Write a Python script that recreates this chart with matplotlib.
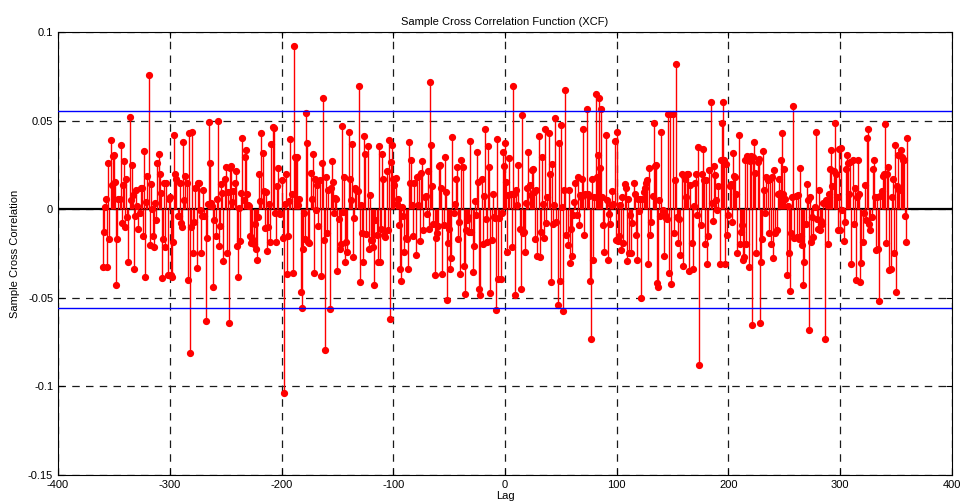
import matplotlib
matplotlib.use("Agg")
import matplotlib.pyplot as plt
import numpy as np

plt.rcParams["font.family"] = ["Liberation Sans", "DejaVu Sans"]
plt.rcParams["axes.unicode_minus"] = False

# sample cross correlation, lags -360 .. 360, split in blocks of lags
xcf_a = [  # -360 .. -303
    -0.0325, -0.013, 0.001, 0.0056, -0.0325, 0.026, -0.017, 0.039, 0.0135, 0.030,
    0.0305, 0.0154, -0.043, -0.017, 0.006, 0.006, 0.036, -0.008, 0.0135, 0.027,
    -0.010, 0.017, -0.0045, -0.030, 0.052, 0.005, 0.025, 0.008, -0.034, -0.004,
    0.011, 0.002, -0.011, -0.002, 0.012, 0.012, -0.015, 0.033, -0.038, 0.004,
    0.019, 0.076, -0.020, 0.014, 0.0, -0.015, -0.0215, 0.0034, -0.006, 0.026,
    0.031, 0.020, 0.009, -0.039, -0.017, 0.015, -0.0215, 0.015,
]
xcf_b = [  # -302 .. -242
    -0.037, 0.006, 0.0068, -0.037, -0.038, -0.0185, 0.042, 0.020, 0.017, -0.004,
    -0.004, 0.015, -0.008, -0.010, 0.038, 0.005, 0.0186, 0.015, -0.040, 0.043,
    -0.081, -0.010, 0.0436, -0.025, -0.007, 0.012, -0.033, 0.015, 0.015, -0.0006,
    -0.025, -0.004, 0.011, -0.004, -0.063, -0.016, 0.003, 0.049, 0.026, 0.0036,
    0.002, -0.044, -0.006, -0.015, 0.006, 0.050, -0.021, -0.0096, 0.014, 0.0092,
    -0.029, 0.017, 0.024, -0.025, 0.0098, -0.064, 0.023, 0.0245, 0.004, 0.010,
    0.0147,
]
xcf_c = [  # -241 .. -181
    0.0213, -0.0209, -0.0382, 0.0007, -0.0179, 0.0092, 0.0404, 0.0051, 0.0292, 0.0333,
    0.0083, 0.0021, 0.0017, -0.0149, -0.019, -0.0171, -0.0194, -0.0081, -0.0224, -0.0288,
    -0.0043, 0.0201, 0.0047, 0.0431, 0.0318, 0.0100, -0.0107, 0.0096, -0.0235, -0.0100,
    0.0032, -0.0186, 0.0367, 0.0461, 0.0457, -0.0021, -0.0186, 0.013, 0.0235, -0.0021,
    -0.0028, 0.0164, -0.0164, -0.104, 0.0032, 0.0201, -0.0363, -0.0149, 0.0047, 0.0397,
    0.0085, -0.036, 0.092, 0.0292, 0.0288, 0.0295, 0.0021, 0.006, -0.0465, -0.0559,
    -0.0224,
]
xcf_d = [  # -180 .. -120
    -0.0021, -0.0171, 0.0543, 0.0371, -0.0186, -0.019, 0.0205, 0.006, 0.0314, -0.036,
    0.0171, -0.0002, 0.0134, -0.0096, 0.0164, -0.0378, 0.0258, 0.0625, -0.0175, -0.0792,
    0.0182, -0.0137, 0.0111, -0.0566, 0.012, 0.0273, 0.0156, -0.0021, 0.0062, 0.0056,
    -0.0348, -0.0058, -0.0224, -0.0198, 0.0468, -0.0017, 0.0179, -0.0299, -0.0186, -0.0243,
    0.0438, 0.0173, 0.0051, 0.0367, -0.0269, -0.0051, 0.012, 0.0107, 0.0105, 0.0694,
    -0.0412, 0.0024, -0.0132, -0.0299, 0.0412, 0.0314, -0.0141, 0.0358, -0.0224, 0.0081,
    -0.0175,
]
xcf_e = [  # -119 .. -59
    -0.0175, -0.0213, -0.0429, -0.0062, -0.0145, -0.0299, 0.0359, -0.0299, -0.0109, 0.031,
    0.0168, -0.0147, -0.0156, 0.0213, -0.0119, 0.0389, -0.0622, 0.0265, 0.0361, 0.0171,
    0.0134, 0.0175, 0.0028, 0.006, -0.009, -0.034, -0.0408, 0.0013, -0.004, -0.0239,
    -0.016, -0.0167, -0.034, 0.038, 0.0148, 0.0276, 0.0024, -0.0149, 0.0148, -0.0261,
    0.0179, 0.0024, 0.019, -0.0182, 0.0205, 0.0273, -0.0119, 0.0069, 0.0073, -0.0028,
    0.0213, -0.0109, 0.0717, 0.0363, 0.013, -0.0081, -0.0372, -0.0165, -0.0137, -0.0096,
    0.0246,
]
xcf_f = [  # -58 .. 1
    0.0248, 0.0117, -0.0363, -0.009, 0.0295, 0.0098, -0.051, -0.019, -0.0109, -0.0335,
    -0.0275, 0.0408, -0.0021, 0.0028, 0.0168, 0.0239, -0.0171, -0.0071, -0.0363, 0.028,
    0.0239, -0.0318, -0.048, -0.0119, -0.0062, -0.0043, -0.0128, 0.0384, -0.0128, -0.0357,
    -0.0209, 0.0047, -0.0034, 0.0323, 0.0154, -0.0448, -0.0485, 0.0171, -0.0194, 0.0077,
    0.0453, -0.0053, -0.0184, 0.0356, 0.0239, -0.0472, -0.0175, 0.0088, -0.0043, -0.0047,
    -0.057, 0.0397, -0.0393, -0.0049, -0.0393, -0.0021, 0.0323, 0.0246, 0.0374, 0.0154,
]
xcf_g = [  # 2 .. 62
    -0.0239, 0.0079, 0.0288, 0.0088, -0.0213, 0.0694, 0.0088, -0.0485, 0.0107, 0.0023,
    0.0248, -0.0111, -0.0453, 0.0529, -0.0134, -0.0128, -0.0241, 0.0036, 0.0117, 0.0323,
    0.0135, 0.0079, 0.022, 0.0224, 0.0098, -0.0167, 0.0107, -0.0265, 0.0412, -0.0269,
    -0.013, 0.0292, 0.0032, -0.016, 0.0455, -0.0077, 0.0069, 0.0431, 0.0198, -0.041,
    0.0254, -0.0081, 0.0021, 0.0514, -0.0071, -0.054, 0.0374, -0.0405, 0.0476, 0.0013,
    -0.0574, 0.0111, 0.0672, -0.0147, -0.0203, 0.0107, -0.0303, -0.0109, -0.0265, -0.0034,
    0.0041,
]
xcf_h = [  # 63 .. 123
    0.0148, -0.0034, 0.0179, -0.009, 0.0079, 0.0069, 0.0173, 0.045, -0.0143, 0.0085,
    0.0563, 0.0088, 0.0073, -0.0405, -0.073, 0.0173, -0.0284, 0.0069, 0.0649, 0.0179,
    0.0305, 0.063, 0.0235, 0.0563, 0.0069, -0.009, -0.0241, 0.0418, 0.0051, -0.0288,
    -0.0028, -0.0085, 0.0026, 0.0103, 0.0032, 0.0386, -0.0175, 0.0436, -0.0179, -0.0151,
    0.0023, -0.0228, 0.0066, -0.019, 0.0141, 0.0117, -0.0292, 0.006, -0.025, -0.0034,
    -0.0247, -0.0077, 0.0145, 0.0088, -0.0147, -0.0288, 0.0055, -0.0013, 0.0055, -0.0504,
    0.0055,
]
xcf_i = [  # 124 .. 184
    0.0098, 0.0122, 0.0145, 0.0167, -0.0307, 0.0235, -0.0145, -0.0071, 0.0073, 0.0487,
    0.0243, 0.0248, -0.0416, -0.0438, 0.0051, -0.004, 0.0436, -0.0002, -0.0265, -0.0034,
    -0.0047, -0.0058, 0.0536, -0.0359, 0.054, -0.0423, 0.054, -0.0134, 0.0164, 0.0822,
    -0.0043, -0.019, -0.0053, -0.0258, 0.0198, -0.0322, 0.0186, 0.0173, 0.0069, 0.0198,
    0.0201, -0.0348, 0.0135, -0.019, -0.0335, 0.0017, 0.0145, 0.0198, -0.0034, 0.0352,
    -0.0879, -0.009, 0.0198, 0.0337, 0.0167, -0.0194, 0.0164, -0.0307, -0.0152, 0.022,
    0.0606,
]
xcf_j = [  # 185 .. 245
    0.0035, -0.0066, 0.0243, 0.0192, 0.0051, -0.0006, 0.013, -0.031, 0.0276, 0.0487,
    0.0606, 0.0276, -0.031, 0.0254, -0.0147, -0.0034, 0.013, 0.0141, -0.0071, 0.0318,
    0.0186, 0.0182, 0.0085, -0.025, 0.0416, -0.0198, -0.0128, -0.009, -0.0284, -0.0269,
    0.028, -0.0194, 0.0299, -0.0326, 0.0273, 0.0299, -0.0655, 0.0295, 0.038, 0.0205,
    -0.025, 0.0267, 0.0286, -0.0645, -0.0297, -0.0171, 0.0329, 0.0111, -0.0021, 0.0179,
    0.0164, -0.0137, 0.0173, -0.0194, 0.0179, -0.0273, 0.022, -0.0137, -0.0119, 0.0088,
    0.0168,
]
xcf_k = [  # 246 .. 305
    0.0092, 0.0276, 0.0431, 0.0088, 0.0224, 0.0055, -0.0372, 0.0017, -0.0247, -0.0461,
    -0.0134, 0.0069, 0.058, -0.016, 0.0073, -0.0156, 0.0079, -0.0171, 0.0235, -0.0152,
    -0.0203, -0.0427, -0.0299, -0.0081, 0.0141, 0.0051, -0.0679, 0.0066, -0.0184, -0.0043,
    -0.0156, 0.0013, 0.0436, -0.0058, -0.0109, 0.0107, -0.0119, -0.0066, -0.0081, 0.0036,
    -0.073, 0.0051, 0.0023, -0.0199, 0.0088, 0.0227, 0.0333, 0.013, 0.0216, 0.0487,
    0.0201, 0.0069, -0.0115, 0.0342, -0.0119, 0.0344, -0.0006, -0.0182, -0.0071, 0.0227,
]
xcf_l = [  # 306 .. 360
    0.0305, 0.0258, 0.0088, 0.0265, -0.031, 0.0276, -0.0081, 0.0122, -0.0401, 0.0069,
    0.0276, 0.0085, -0.041, -0.0303, -0.0184, -0.0024, 0.0135, -0.0062, 0.0404, 0.0455,
    -0.0081, -0.0115, -0.0043, 0.0224, 0.0276, 0.0069, -0.0231, 0.0069, -0.0222, -0.0517,
    0.0073, 0.0103, 0.0186, 0.0201, 0.0478, -0.019, 0.0198, 0.0239, -0.0344, -0.034,
    0.0066, 0.0168, -0.0245, 0.0361, -0.047, 0.013, 0.0305, 0.0107, 0.0333, 0.0295,
    0.028, 0.0276, -0.0036, -0.0184, 0.0404,
]

xcf = (xcf_a + xcf_b + xcf_c + xcf_d + xcf_e + xcf_f
       + xcf_g + xcf_h + xcf_i + xcf_j + xcf_k + xcf_l)
lags = np.arange(-360, 361)
conf_bound = 0.0555

x_ticks = [-400, -300, -200, -100, 0, 100, 200, 300, 400]
y_ticks = [-0.15, -0.1, -0.05, 0, 0.05, 0.1]
y_tick_labels = ["-0.15", "-0.1", "-0.05", "0", "0.05", "0.1"]

fig = plt.figure(figsize=(9.61, 5.03), dpi=100)
ax = fig.add_axes([0.0604, 0.0557, 0.9302, 0.8807])

ax.grid(True, color="0.1", linestyle=(0, (6, 5)), linewidth=0.9)
ax.set_axisbelow(True)

markerline, stemlines, baseline = ax.stem(lags, xcf, linefmt="r-", markerfmt="ro", basefmt=" ")
stemlines.set_linewidth(1.0)
markerline.set_markersize(4.2)
markerline.set_markeredgecolor("red")

ax.axhline(0, color="black", linewidth=1.6, zorder=1.5)
ax.axhline(conf_bound, color="blue", linewidth=1.0, zorder=3)
ax.axhline(-conf_bound, color="blue", linewidth=1.0, zorder=3)

ax.set_xlim(-400, 400)
ax.set_ylim(-0.15, 0.1)
ax.set_xticks(x_ticks)
ax.set_yticks(y_ticks)
ax.set_yticklabels(y_tick_labels)
ax.tick_params(direction="in", top=True, right=True, labelsize=8, length=4, width=0.8)
for spine in ax.spines.values():
    spine.set_linewidth(0.8)

ax.set_title("Sample Cross Correlation Function (XCF)", fontsize=8, pad=5)
ax.set_xlabel("Lag", fontsize=8, labelpad=1)
ax.set_ylabel("Sample Cross Correlation", fontsize=8, labelpad=6)

plt.savefig("out.png", dpi=100)
plt.close()
